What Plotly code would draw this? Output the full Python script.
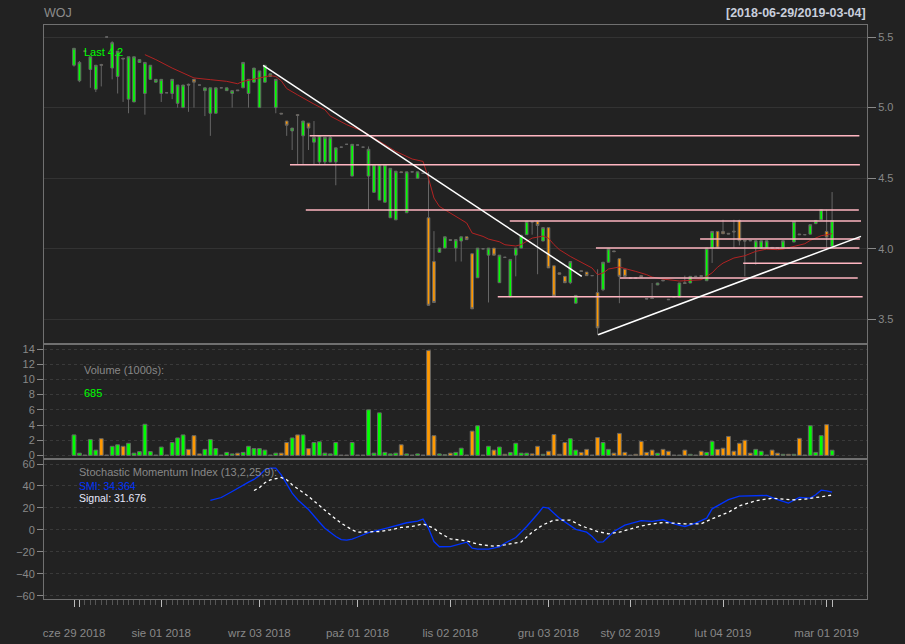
import plotly.graph_objects as go
from plotly.subplots import make_subplots

# ---------------- data ----------------
month_days = {
    "2018-06": [29],
    "2018-07": [2, 3, 5, 6, 9, 11, 12, 16, 18, 19, 20, 24, 25, 27, 31],
    "2018-08": [1, 2, 3, 6, 7, 8, 9, 10, 13, 14, 16, 17, 20, 21, 23, 24, 28, 30],
    "2018-09": [3, 4, 5, 6, 7, 10, 11, 12, 13, 14, 17, 18, 19, 20, 21, 24, 25, 27],
    "2018-10": [1, 2, 3, 4, 5, 8, 9, 10, 12, 15, 16, 18, 19, 22, 24, 26, 30],
    "2018-11": [2, 5, 6, 7, 8, 9, 13, 14, 15, 16, 19, 20, 21, 22, 23, 26, 28, 30],
    "2018-12": [3, 4, 5, 6, 7, 10, 11, 12, 13, 14, 17, 18, 19, 20, 28],
    "2019-01": [2, 3, 4, 7, 8, 9, 10, 14, 15, 16, 18, 21, 22, 24, 25, 28, 30],
    "2019-02": [4, 5, 6, 7, 8, 11, 12, 13, 14, 15, 18, 19, 20, 21, 22, 25, 26, 27, 28],
    "2019-03": [1, 4],
}
dates = [f"{m}-{d:02d}" for m, ds in month_days.items() for d in ds]

opens = [
    5.30, 5.19, 5.40, 5.27, 5.13, 5.305, 5.50, 5.28, 5.22, 5.35,
    5.06, 5.04, 5.32, 5.10, 5.20, 5.18, 5.10, 5.105, 5.10, 5.03,
    5.00, 5.165, 5.20, 5.16, 5.12, 4.96, 4.96, 5.14, 5.12, 5.10,
    5.125, 5.14, 5.10, 5.18, 5.00, 5.18, 5.22, 5.00, 4.96, 4.905,
    4.835, 4.95, 4.80, 4.89, 4.755, 4.615, 4.615, 4.615, 4.615, 4.72,
    4.74, 4.515, 4.735, 4.72, 4.515, 4.40, 4.345, 4.33, 4.22, 4.205,
    4.545, 4.255, 4.545, 4.50, 4.535, 4.22, 3.91, 3.975, 4.005, 4.065,
    4.005, 4.055, 4.085, 3.965, 3.795, 4.00, 3.955, 4.005, 3.76, 3.94,
    3.66, 3.955, 4.005, 4.10, 4.19, 4.195, 4.055, 4.15, 3.88, 3.83,
    3.805, 3.76, 3.615, 3.845, 3.835, 3.81, 3.69, 3.71, 3.905, 3.985,
    3.93, 3.855, 3.793, 3.793, 3.81, 3.648, 3.652, 3.744, 3.778, 3.643,
    3.66, 3.658, 3.76, 3.758, 3.805, 3.81, 3.774, 4.005, 4.123, 4.123,
    4.11, 4.125, 4.201, 4.06, 4.06, 4.005, 4.005, 4.005, 4.01, 4.008,
    4.005, 4.005, 4.048, 4.105, 4.10, 4.104, 4.178, 4.206, 4.123, 4.017,
]
highs = [
    5.42, 5.33, 5.40, 5.36, 5.30, 5.31, 5.50, 5.47, 5.40, 5.35,
    5.36, 5.36, 5.34, 5.32, 5.30, 5.20, 5.20, 5.105, 5.20, 5.16,
    5.16, 5.17, 5.20, 5.16, 5.14, 5.14, 5.14, 5.14, 5.14, 5.12,
    5.125, 5.32, 5.20, 5.28, 5.26, 5.30, 5.24, 5.20, 4.96, 4.905,
    4.855, 4.95, 4.905, 4.89, 4.905, 4.80, 4.79, 4.80, 4.715, 4.72,
    4.74, 4.74, 4.735, 4.72, 4.725, 4.595, 4.595, 4.595, 4.57, 4.55,
    4.545, 4.545, 4.545, 4.545, 4.535, 4.545, 4.125, 4.005, 4.085, 4.065,
    4.065, 4.085, 4.085, 3.965, 4.005, 4.00, 4.005, 4.005, 3.955, 3.94,
    3.925, 4.005, 4.10, 4.195, 4.195, 4.195, 4.15, 4.15, 3.88, 3.83,
    3.805, 3.91, 3.67, 3.845, 3.835, 3.81, 3.855, 3.905, 4.00, 3.985,
    3.93, 3.855, 3.793, 3.793, 3.81, 3.648, 3.758, 3.758, 3.778, 3.643,
    3.66, 3.758, 3.81, 3.805, 3.805, 3.81, 4.005, 4.123, 4.123, 4.206,
    4.11, 4.206, 4.206, 4.06, 4.06, 4.057, 4.057, 4.057, 4.01, 4.008,
    4.057, 4.005, 4.194, 4.105, 4.10, 4.171, 4.201, 4.277, 4.277, 4.402,
]
lows = [
    5.29, 5.18, 5.40, 5.14, 5.11, 5.15, 5.50, 5.20, 5.10, 5.04,
    4.96, 5.04, 5.32, 4.95, 5.20, 5.18, 5.04, 5.105, 5.06, 5.00,
    5.00, 4.97, 5.00, 5.16, 4.94, 4.80, 4.96, 5.14, 5.12, 5.00,
    5.12, 5.14, 5.00, 5.18, 5.00, 5.18, 5.22, 4.96, 4.955, 4.80,
    4.70, 4.595, 4.595, 4.70, 4.595, 4.595, 4.595, 4.615, 4.45, 4.72,
    4.74, 4.515, 4.735, 4.72, 4.275, 4.40, 4.345, 4.33, 4.22, 4.205,
    4.54, 4.255, 4.545, 4.50, 4.535, 3.595, 3.62, 3.975, 4.005, 4.06,
    3.91, 3.91, 4.065, 3.575, 3.795, 4.00, 3.62, 3.955, 3.76, 3.94,
    3.66, 3.805, 4.005, 4.10, 4.10, 3.82, 4.055, 3.865, 3.665, 3.82,
    3.76, 3.75, 3.615, 3.84, 3.81, 3.81, 3.39, 3.70, 3.905, 3.98,
    3.615, 3.805, 3.793, 3.793, 3.80, 3.645, 3.645, 3.744, 3.774, 3.64,
    3.66, 3.658, 3.755, 3.758, 3.805, 3.805, 3.774, 3.90, 4.005, 4.107,
    4.105, 4.005, 4.024, 3.805, 4.057, 3.887, 4.005, 4.005, 4.005, 4.005,
    4.005, 4.005, 4.048, 4.10, 4.10, 4.104, 4.178, 4.206, 3.99, 4.017,
]
closes = [
    5.42, 5.32, 5.40, 5.36, 5.30, 5.30, 5.50, 5.46, 5.40, 5.345,
    5.36, 5.36, 5.34, 5.32, 5.30, 5.20, 5.20, 5.105, 5.20, 5.16,
    5.16, 5.16, 5.18, 5.16, 5.14, 5.14, 5.14, 5.14, 5.14, 5.12,
    5.12, 5.32, 5.20, 5.28, 5.26, 5.30, 5.24, 5.20, 4.955, 4.875,
    4.855, 4.945, 4.905, 4.855, 4.79, 4.80, 4.79, 4.79, 4.715, 4.72,
    4.74, 4.74, 4.735, 4.72, 4.705, 4.595, 4.595, 4.595, 4.57, 4.55,
    4.54, 4.545, 4.545, 4.545, 4.535, 3.60, 3.62, 4.005, 4.085, 4.06,
    4.065, 4.085, 4.065, 3.575, 4.005, 4.00, 4.005, 3.955, 3.955, 3.94,
    3.925, 4.005, 4.095, 4.195, 4.19, 4.165, 4.15, 3.865, 3.665, 3.82,
    3.76, 3.91, 3.67, 3.84, 3.81, 3.81, 3.44, 3.905, 4.00, 3.98,
    3.805, 3.805, 3.793, 3.793, 3.80, 3.645, 3.648, 3.758, 3.774, 3.64,
    3.66, 3.758, 3.755, 3.805, 3.805, 3.805, 4.005, 4.123, 4.005, 4.107,
    4.105, 4.12, 4.057, 4.055, 4.057, 4.057, 4.057, 4.057, 4.005, 4.005,
    4.057, 4.005, 4.194, 4.10, 4.10, 4.171, 4.201, 4.277, 4.083, 4.20,
]
volume_k = [
    2.7, 0.3, 0.05, 2.1, 0.7, 2.2, 0.05, 1.2, 1.4, 1.2,
    1.6, 0.3, 0.5, 4.1, 0.5, 0.05, 1.1, 0.05, 1.7, 2.3,
    2.7, 0.8, 2.6, 0.2, 0.8, 2.1, 0.9, 0.05, 0.4, 0.2,
    0.3, 0.4, 1.2, 0.9, 0.9, 0.7, 0.05, 0.3, 0.3, 1.7,
    2.3, 2.7, 2.7, 0.9, 1.7, 1.8, 0.3, 0.2, 1.7, 0.05,
    0.05, 1.7, 0.05, 0.05, 6.0, 0.3, 5.6, 0.4, 0.2, 0.3,
    1.4, 0.2, 0.05, 0.2, 0.05, 13.8, 2.6, 0.2, 0.1, 0.3,
    0.4, 0.95, 0.05, 3.2, 3.9, 0.05, 1.2, 0.7, 1.1, 0.15,
    0.4, 1.6, 0.3, 0.3, 0.2, 1.2, 0.15, 0.55, 2.75, 0.15,
    1.7, 2.2, 0.7, 0.4, 0.8, 0.05, 2.35, 1.7, 0.8, 0.3,
    2.9, 0.4, 0.05, 0.15, 1.85, 0.4, 0.7, 0.3, 0.8, 0.55,
    0.05, 0.05, 0.7, 0.15, 0.05, 0.55, 0.4, 1.85, 0.8, 0.95,
    2.5, 0.55, 1.6, 2.0, 0.3, 0.8, 0.55, 0.05, 0.7, 0.3,
    0.15, 0.15, 0.15, 2.25, 0.05, 3.9, 0.4, 2.6, 4.05, 0.685,
]

# moving average (red line): bar index -> price
sma_bar = [13, 15, 18, 20, 22, 25, 28, 30, 31, 33, 35, 36, 37, 38, 39, 40, 41, 44, 46, 47,
           49, 50, 53, 56, 59, 62, 64, 65, 66, 67, 69, 71, 72, 73, 75, 76, 78, 79, 81, 82,
           83, 84, 86, 87, 88, 89, 91, 93, 95, 96, 97, 98, 100, 103, 105, 106, 108, 111, 115, 117,
           118, 119, 121, 123, 125, 127, 129, 130, 132, 134, 135, 137, 138, 139]
sma_val = [5.375, 5.34, 5.28, 5.245, 5.21, 5.198, 5.186, 5.169, 5.186, 5.202, 5.216, 5.226, 5.22, 5.19, 5.135, 5.11, 5.09, 5.025, 4.985, 4.94,
           4.90, 4.879, 4.832, 4.761, 4.69, 4.636, 4.619, 4.50, 4.36, 4.30, 4.253, 4.206, 4.183, 4.112, 4.088, 4.069, 4.05, 4.029, 4.02, 4.03,
           4.053, 4.076, 4.09, 4.076, 4.03, 3.994, 3.946, 3.904, 3.864, 3.817, 3.828, 3.857, 3.871, 3.84, 3.817, 3.80, 3.786, 3.772, 3.781, 3.83,
           3.87, 3.899, 3.935, 3.951, 3.982, 3.998, 3.994, 3.998, 4.017, 4.036, 4.06, 4.093, 4.10, 4.107]

# Stochastic Momentum Index (13,2,25,9)
smi_bar = [25, 27, 29, 30, 32, 33, 34, 35, 36, 37, 38, 39, 40, 41, 43, 45, 46, 48, 49, 50,
           51, 52, 54, 57, 59, 61, 63, 64, 65, 66, 67, 69, 72, 73, 74, 76, 78, 79, 81, 83,
           85, 86, 87, 89, 92, 94, 95, 96, 97, 99, 101, 104, 106, 108, 110, 112, 114, 116, 117, 120,
           122, 125, 127, 129, 131, 133, 135, 136, 137, 138, 139]
smi_val = [26.8, 29.5, 35, 38, 43.5, 46, 49.6, 54.8, 56.3, 56.3, 50.2, 42, 33.5, 27.5, 18.5, 7, 1.5, -6, -8.8, -9.4,
           -8.4, -6.5, -2.5, 1.2, 4, 6.5, 8, 9.8, 1.5, -10.6, -15.4, -15.2, -11.2, -16.7, -17.6, -17.6, -15.5, -12.2, -7, 3.1,
           14.5, 20.7, 19.8, 10.7, 0.5, -2.1, -6, -11.2, -11, -1.5, 4.3, 8.5, 7.8, 9.2, 5.5, 3.1, 6.1, 10.7, 19.2, 27.5,
           30.7, 31, 31.4, 27.5, 24.4, 29.5, 28.9, 32, 36.2, 35.5, 34.364]
signal_bar = [33, 34, 35, 36, 38, 39, 40, 41, 43, 45, 47, 49, 51, 52, 54, 56, 58, 60, 62, 64,
              66, 67, 69, 72, 74, 77, 79, 82, 84, 86, 88, 91, 93, 96, 98, 100, 103, 105, 108, 110,
              112, 115, 117, 120, 122, 125, 128, 130, 132, 134, 137, 139]
signal_val = [35.9, 38.5, 43, 45.5, 47.8, 45.7, 41.1, 37.5, 30.5, 22.2, 13.7, 6.1, 0.0, -2.1, -2.1, -1.5, 0, 2.2, 3.1, 5.5,
              1.5, -2.6, -8.2, -10, -13.1, -14.9, -13.7, -11, -2.1, 4.6, 8.9, 8.9, 3.7, -1.5, -3.6, -2.1, 2.2, 4.6, 6.7, 6.1,
              5.5, 5.5, 10.1, 16.1, 21.9, 26.5, 28.9, 28, 27.4, 28, 29.8, 31.676]

# hand-drawn support/resistance levels (pink) and trend lines (white)
level_price = [4.80, 4.595, 4.275, 4.197, 4.069, 4.006, 3.897, 3.793, 3.661]
level_from_bar = [43.2, 39.6, 42.5, 79.9, 114.8, 95.7, 122.7, 100.1, 77.7]
level_to_bar = [144.0, 144.1, 143.9, 144.3, 144.1, 144.0, 144.45, 143.7, 144.6]
trend_from = [(34.67, 5.299), (96.1, 3.392)]
trend_to = [(93.1, 3.805), (144.3, 4.088)]

major_tick_dates = ["2018-06-29", "2018-07-02", "2018-08-01", "2018-09-03", "2018-10-01",
                    "2018-11-02", "2018-12-03", "2019-01-02", "2019-02-04", "2019-03-01", "2019-03-04"]
major_tick_text = ["cze 29 2018", "", "sie 01 2018", "wrz 03 2018", "paź 01 2018",
                   "lis 02 2018", "gru 03 2018", "sty 02 2019", "lut 04 2019", "mar 01 2019", ""]

# ---------------- figure ----------------
BG = "#222222"
FG = "#888888"
UP = "#00FF00"
DN = "#FF9900"
BORDER = "#707070"
FONT = "Liberation Sans, Arial, sans-serif"

x = list(range(len(dates)))
pos = {d: i for i, d in enumerate(dates)}
major_pos = [pos[d] for d in major_tick_dates]
minor_pos = [i for i in x if i not in major_pos]

fig = make_subplots(rows=3, cols=1, shared_xaxes=True, vertical_spacing=0,
                    row_heights=[319, 115, 140])

fig.add_trace(go.Scatter(x=sma_bar, y=sma_val, mode="lines",
                         line=dict(color="#B22222", width=1), hoverinfo="skip"), row=1, col=1)

fig.add_trace(go.Candlestick(
    x=x, open=opens, high=highs, low=lows, close=closes,
    increasing=dict(fillcolor=UP, line=dict(color="#666666", width=1)),
    decreasing=dict(fillcolor=DN, line=dict(color="#666666", width=1)),
    whiskerwidth=0), row=1, col=1)

for p, a, b in zip(level_price, level_from_bar, level_to_bar):
    fig.add_trace(go.Scatter(x=[a, b], y=[p, p], mode="lines",
                             line=dict(color="#FFB6C1", width=1.5), hoverinfo="skip"), row=1, col=1)
for (a, pa), (b, pb) in zip(trend_from, trend_to):
    fig.add_trace(go.Scatter(x=[a, b], y=[pa, pb], mode="lines",
                             line=dict(color="#FFFFFF", width=1.5), hoverinfo="skip"), row=1, col=1)

vol_colors = [UP if c > o else DN for o, c in zip(opens, closes)]
fig.add_trace(go.Bar(x=x, y=volume_k, width=0.7,
                     marker=dict(color=vol_colors, line=dict(color="#666666", width=1))),
              row=2, col=1)

fig.add_trace(go.Scatter(x=smi_bar, y=smi_val, mode="lines",
                         line=dict(color="#0033FF", width=1.3), hoverinfo="skip"), row=3, col=1)
fig.add_trace(go.Scatter(x=signal_bar, y=signal_val, mode="lines",
                         line=dict(color="#FFFFFF", width=1.3, dash="dot"), hoverinfo="skip"), row=3, col=1)

L, R, T, B = 44, 38, 25, 45
W, H = 905 - L - R, 644 - T - B


def px(xp):
    return (xp - L) / W


def py(yp):
    return (644 - B - yp) / H


common_x = dict(range=[-5.5, 145.4], showgrid=False, zeroline=False, showline=True,
                mirror=True, linecolor=BORDER, linewidth=1, automargin=False,
                rangeslider=dict(visible=False))
fig.update_xaxes(**common_x)
fig.update_xaxes(ticks="", showticklabels=False, row=1, col=1)
fig.update_xaxes(ticks="", showticklabels=False, row=2, col=1)
fig.update_xaxes(tickmode="array", tickvals=major_pos, ticktext=major_tick_text,
                 ticks="outside", ticklen=7, tickcolor="#BBBBBB", tickwidth=1,
                 showticklabels=True, ticklabelstandoff=16,
                 tickfont=dict(family=FONT, size=11.5, color=FG),
                 minor=dict(tickmode="array", tickvals=minor_pos, ticks="outside",
                            ticklen=5, tickcolor="#555555", tickwidth=1, showgrid=False),
                 row=3, col=1)

fig.update_yaxes(automargin=False)
fig.update_yaxes(row=1, col=1, side="right", range=[3.326, 5.585],
                 tickvals=[3.5, 4.0, 4.5, 5.0, 5.5], ticktext=["3.5", "4.0", "4.5", "5.0", "5.5"],
                 ticks="outside", ticklen=8, tickcolor=FG,
                 showgrid=True, gridcolor="#333333", gridwidth=1,
                 showline=True, mirror=True, linecolor=BORDER, zeroline=False,
                 tickfont=dict(family=FONT, size=11, color=FG))
fig.update_yaxes(row=2, col=1, side="left", range=[-0.47, 14.66],
                 tickvals=list(range(0, 15, 2)),
                 ticks="outside", ticklen=6, tickcolor=FG,
                 showgrid=True, gridcolor="#3a3a3a", griddash="dot", gridwidth=1,
                 showline=True, mirror=True, linecolor=BORDER, zeroline=False,
                 tickfont=dict(family=FONT, size=11, color=FG))
fig.update_yaxes(row=3, col=1, side="left", range=[-63.0, 64.6],
                 tickvals=list(range(-60, 61, 20)),
                 ticks="outside", ticklen=6, tickcolor=FG,
                 showgrid=True, gridcolor="#3a3a3a", griddash="dot", gridwidth=1,
                 showline=True, mirror=True, linecolor=BORDER, zeroline=False,
                 tickfont=dict(family=FONT, size=11, color=FG))

ann = []


def text(s, xp, yp, color, size=11, anchor="left", bold=False):
    ann.append(dict(text=f"<b>{s}</b>" if bold else s, x=px(xp), y=py(yp),
                    xref="paper", yref="paper", xanchor=anchor, yanchor="middle",
                    showarrow=False, borderpad=0,
                    font=dict(family=FONT, size=size, color=color)))


text("WOJ", 43, 13, "#8C8C8C", size=12.5)
text(f"[{dates[0]}/{dates[-1]}]", 867, 13, "#C8CEDC", size=12.5, anchor="right", bold=True)
text(f"Last {closes[-1]:g}", 83, 52, UP)
text("Volume (1000s):", 83, 370, FG)
text(f"{volume_k[-1] * 1000:.0f}", 83, 393, UP)
text("Stochastic Momentum Index (13,2,25,9):", 78, 472, FG)
text(f"SMI: {smi_val[-1]:.3f}", 78, 486, "#0033FF", size=10.5)
text(f"Signal: {signal_val[-1]:.3f}", 78, 498, "#E8EAFF", size=10.5)

fig.update_layout(width=905, height=644, margin=dict(l=L, r=R, t=T, b=B, autoexpand=False),
                  paper_bgcolor=BG, plot_bgcolor=BG, showlegend=False,
                  annotations=ann, font=dict(family=FONT, color=FG),
                  hovermode=False)

fig.write_html("out.html", config={"displayModeBar": False},
               post_script="document.body.style.margin='0';document.body.style.padding='0';"
                           "document.body.style.background='#222222';")
